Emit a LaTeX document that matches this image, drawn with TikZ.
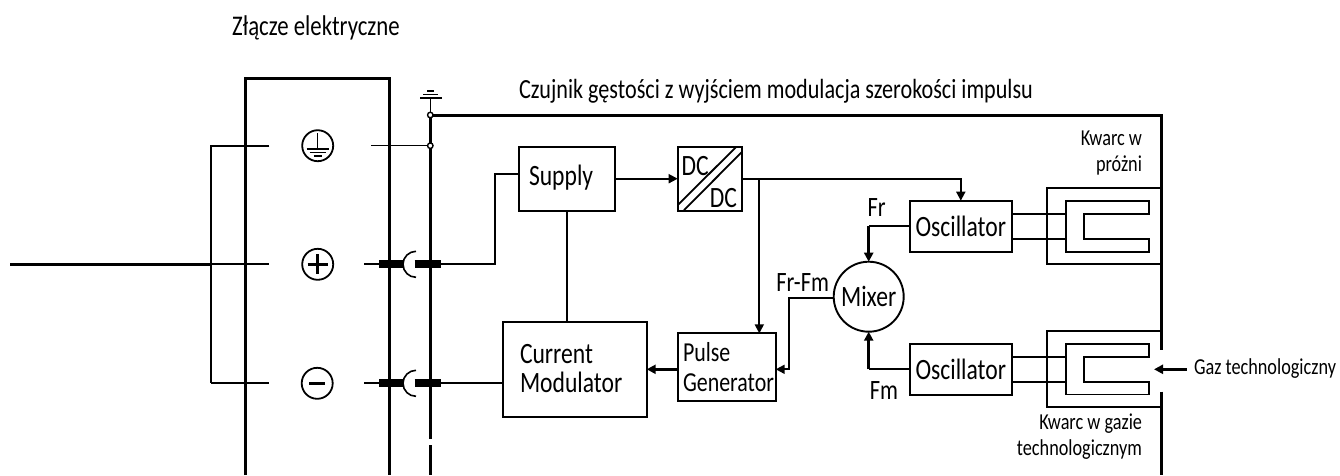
\documentclass[tikz,border=0pt]{standalone}
\usepackage{fontspec}
\setmainfont[FakeStretch=0.8]{Carlito}
\usetikzlibrary{arrows.meta}
\tikzset{
  wire/.style={line width=1.8pt,line join=miter},
  thinwire/.style={line width=1.4pt},
  heavy/.style={line width=3pt,line join=miter},
  mid/.style={line width=2.4pt,line join=miter},
  flow/.style={line width=1.8pt,line join=miter,-{Triangle[length=9pt,width=9pt]}},
  flowb/.style={line width=2.6pt,line join=miter,-{Triangle[length=9pt,width=9pt]}},
  block/.style={draw,line width=1.9pt,inner sep=0pt,outer sep=0pt},
  sym/.style={circle,draw,line width=1.8pt,minimum size=31pt,inner sep=0pt,outer sep=0pt},
  dot/.style={circle,draw,fill=white,line width=1.4pt,minimum size=5.5pt,inner sep=0pt},
  pin/.style={line width=8pt},
  lab/.style={inner sep=0pt,outer sep=0pt,font=\fontsize{29.5}{29}\selectfont},
  note/.style={inner sep=0pt,outer sep=0pt,font=\fontsize{28}{28}\selectfont},
  small/.style={inner sep=0pt,outer sep=0pt,font=\fontsize{22.8}{25.5}\selectfont},
}
\begin{document}
\begin{tikzpicture}[x=1pt,y=-1pt]
\useasboundingbox (0,0) rectangle (1340,475);
% texts at the top
\node[note,anchor=west,font=\fontsize{28.5}{28}\selectfont] (title1) at (232,28) {Złącze elektryczne};
\node[note,anchor=west,font=\fontsize{27.7}{28}\selectfont] (title2) at (519,91) {Czujnik gęstości z wyjściem modulacja szerokości impulsu};
% housing
\coordinate (hbl) at (245.7,475); \coordinate (htl) at (245.7,78);
\coordinate (htr) at (389,78); \coordinate (hbr) at (389,475);
\draw[heavy] (hbl) -- (htl) -- (htr) -- (hbr);
% symbols
\node[sym] (symPE) at (317.7,145.7) {};
\node[sym] (symPlus) at (317.7,264.3) {};
\node[sym] (symMinus) at (317.2,383.3) {};
\draw[thinwire] (317.7,133) -- (317.7,149);
\draw[line width=1.6pt] (306.7,149) -- (328.7,149);
\draw[line width=1.6pt] (309.7,152.5) -- (325.7,152.5);
\draw[line width=1.6pt] (313.7,155.7) -- (321.7,155.7);
\draw[line width=2.6pt] (307.7,264.3) -- (327.7,264.3);
\draw[line width=2.6pt] (317.7,254.3) -- (317.7,274.3);
\draw[line width=3pt] (309.2,383.3) -- (325.2,383.3);
% bus and walls
\coordinate (busend) at (430.3,439.3);
\coordinate (bus2a) at (430.3,445);
\coordinate (bus2b) at (430.3,475);
\coordinate (cornerTR) at (1161,115);
\coordinate (wallA) at (1161,350);
\coordinate (wallB) at (1161,391.7);
\coordinate (wallC) at (1161,475);
\coordinate (j1c) at (430.3,115);
\draw[heavy] (j1c) -- (busend);
\draw[heavy] (bus2a) -- (bus2b);
\draw[heavy] (j1c) -- (cornerTR) -- (wallA);
\draw[heavy] (wallB) -- (wallC);
\node[dot] (j1) at (j1c) {};
\node[dot] (j2) at (430.3,145.7) {};
% earth symbol
\coordinate (e1) at (430.3,98);
\draw[thinwire] (j1) -- (e1);
\draw[line width=1.6pt] (420,98) -- (441.5,98);
\draw[line width=1.6pt] (423,94.3) -- (438,94.3);
\draw[line width=1.6pt] (427,90.7) -- (434,90.7);
% left harness
\coordinate (in) at (10,264.3);
\coordinate (h0) at (210.7,145.7);
\coordinate (h1) at (210.7,264.3);
\coordinate (h2) at (210.7,383.3);
\coordinate (a0) at (269.3,145.7);
\coordinate (a1) at (269.3,264.3);
\coordinate (a2) at (269.3,383.3);
\draw[mid] (a0) -- (h0) -- (h2);
\draw[wire] (h2) -- (a2);
\draw[wire] (h1) -- (a1);
\draw[heavy] (in) -- (h1);
% right stubs
\coordinate (r0) at (371,145.7);
\draw[thinwire] (r0) -- (j2);
\foreach \y/\n in {264.3/P,383.3/M}{
  \coordinate (\n-a) at (364,\y);
  \coordinate (\n-b) at (379.3,\y);
  \coordinate (\n-c) at (402.7,\y);
  \coordinate (\n-d) at (414.5,\y);
  \coordinate (\n-e) at (440.7,\y);
  \coordinate (\n-arc) at (416,\y-13);
  \draw[wire] (\n-a) -- (\n-b);
  \draw[pin] (\n-b) -- (\n-c);
  \draw[pin] (\n-d) -- (\n-e);
  \draw[line width=1.6pt] (\n-arc) arc[start angle=90,end angle=270,radius=13pt];
}
% blocks
\node[block,minimum width=96pt,minimum height=64pt] (supply) at (567,178.7) {};
\node[lab,anchor=west] (supplyt) at (529,178) {Supply};
\node[block,minimum width=64.6pt,minimum height=64pt] (dc) at (710,178.7) {};
\draw[wire] (678.3,204.5) -- (735.8,147.3);
\draw[wire] (684,210.2) -- (741.8,152);
\node[lab,anchor=west] (dc1) at (681.5,166) {DC};
\node[lab,anchor=east] (dc2) at (737,198) {DC};
\node[block,minimum width=143.4pt,minimum height=95pt] (cm) at (575,369.2) {};
\node[lab,anchor=west,align=left] (cmt) at (520,368.5) {Current\\Modulator};
\node[block,minimum width=98pt,minimum height=67.7pt] (pg) at (726.7,367.2) {};
\node[lab,anchor=west,align=left,font=\fontsize{27.4}{30}\selectfont] (pgt) at (683,367) {Pulse\\Generator};
\node[circle,draw,line width=1.9pt,minimum size=70pt,inner sep=0pt,outer sep=0pt,font=\fontsize{29.5}{29}\selectfont] (mix) at (868.7,296.7) {Mixer};
\node[block,minimum width=101.7pt,minimum height=51pt,font=\fontsize{29.5}{29}\selectfont] (osc1) at (960.8,226.2) {Oscillator};
\node[block,minimum width=101.7pt,minimum height=50.7pt,font=\fontsize{29.5}{29}\selectfont] (osc2) at (960.8,369.3) {Oscillator};
% feeds
\coordinate (s1) at (495,264.3);
\coordinate (s2) at (495,174.3);
\coordinate (s3) at (519,174.3);
\draw[wire] (P-e) -- (s1) -- (s2) -- (s3);
\coordinate (cmin) at (503.3,383.3);
\draw[wire] (M-e) -- (cmin);
\draw[wire] (supply.south) -- (cm.north -| supply.south);
\draw[flow] (supply.east) -- (dc.west);
\coordinate (oscfeed) at (960.8,178.7);
\draw[flow] (dc.east) -- (oscfeed) -- (osc1.north);
\coordinate (br1) at (759.3,178.7);
\draw[flow] (br1) -- (br1 |- pg.north);
\coordinate (pgl) at (677.7,369.3);
\coordinate (cmr) at (646.7,369.3);
\draw[flowb] (pgl) -- (cmr);
\coordinate (pgr) at (775.7,369.3);
\coordinate (mx1) at (833.7,297.7);
\coordinate (mx2) at (789.3,297.7);
\coordinate (mx3) at (789.3,369.3);
\draw[flow] (mx1) -- (mx2) -- (mx3) -- (pgr);
\coordinate (fr) at (868.7,226.2);
\coordinate (fm) at (868.7,369.3);
\draw[wire] (osc1.west) -- (fr);
\draw[wire] (osc2.west) -- (fm);
\draw[flowb] (fr) -- (mix.north);
\draw[flowb] (fm) -- (mix.south);
% quartz enclosures and forks
\foreach \t/\n in {188.3/A,331/B}{
  \coordinate (\n-tl) at (1046.7,\t);
  \coordinate (\n-tr) at (1161,\t);
  \coordinate (\n-bl) at (1046.7,\t+76);
  \coordinate (\n-br) at (1161,\t+76);
  \draw[wire] (\n-tr) -- (\n-tl) -- (\n-bl) -- (\n-br);
  \draw[line width=1.9pt,line join=miter] (1148.7,\t+12.6) -- (1065.7,\t+12.6) -- (1065.7,\t+63.5) -- (1148.7,\t+63.5) -- (1148.7,\t+51) -- (1084.3,\t+51) -- (1084.3,\t+25.6) -- (1148.7,\t+25.6) -- cycle;
  \draw[wire] (1011.7,\t+25.6) -- (1065.7,\t+25.6);
  \draw[wire] (1011.7,\t+51) -- (1065.7,\t+51);
}
% gas arrow
\coordinate (gas1) at (1186.7,369.3);
\coordinate (gas2) at (1154,369.3);
\draw[flowb] (gas1) -- (gas2);
% labels
\node[small,anchor=west] (gaz) at (1194,369) {Gaz technologiczny};
\node[small,anchor=north east,align=right] (q1) at (1142,131) {Kwarc w\\próżni};
\node[small,anchor=north east,align=right] (q2) at (1142,414) {Kwarc w gazie\\technologicznym};
\node[note] (lfr) at (876.7,208) {Fr};
\node[note] (lfrfm) at (802.7,282.7) {Fr-Fm};
\node[note] (lfm) at (884,390.7) {Fm};
\end{tikzpicture}
\end{document}
